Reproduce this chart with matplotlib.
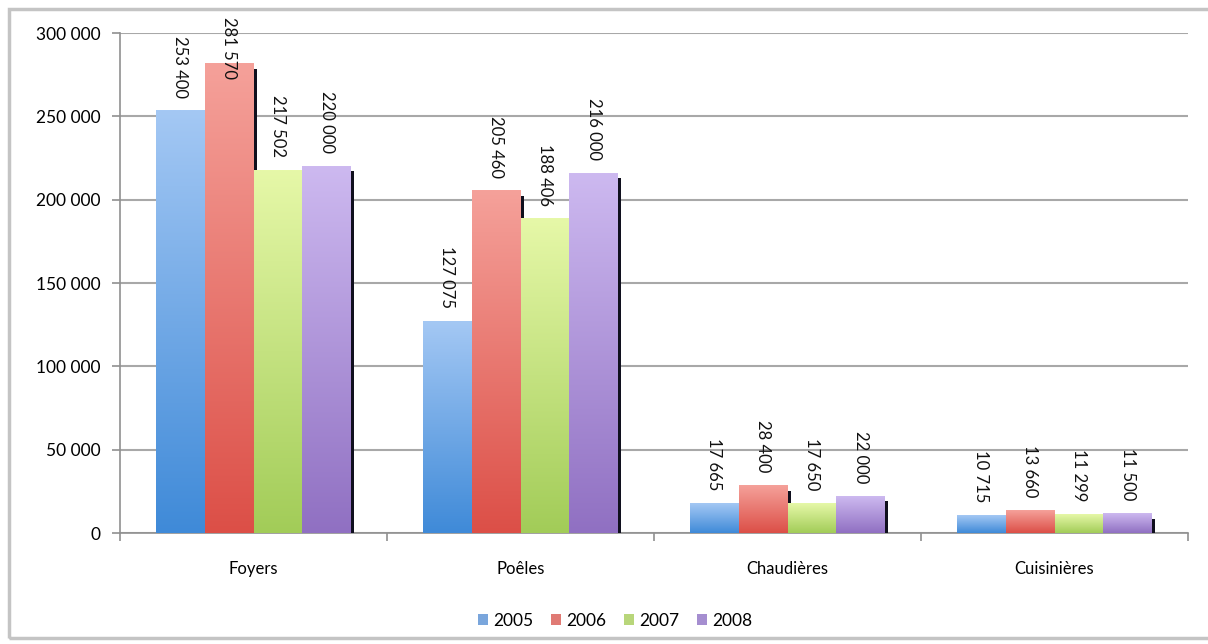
import numpy as np
import matplotlib
matplotlib.use("Agg")
import matplotlib.pyplot as plt
from matplotlib.colors import LinearSegmentedColormap
from matplotlib.patches import Patch, Rectangle

plt.rcParams['font.family'] = ['Lato', 'DejaVu Sans']

# data
categories = ["Foyers", "Poêles", "Chaudières", "Cuisinières"]
years = ["2005", "2006", "2007", "2008"]
v2005 = [253400, 127075, 17665, 10715]
v2006 = [281570, 205460, 28400, 13660]
v2007 = [217502, 188406, 17650, 11299]
v2008 = [220000, 216000, 22000, 11500]
series = [v2005, v2006, v2007, v2008]

# gradient colours (top, bottom) per year
tops = ["#a4c8f4", "#f5a19a", "#e6f8a8", "#cdb9f0"]
bottoms = ["#3f8ad8", "#dc4f47", "#a2cc58", "#9070c2"]
legend_cols = ["#7aa6dc", "#e07a74", "#b8d67a", "#a58ed0"]

ymax = 300000
fig = plt.figure(figsize=(12.08, 6.44), dpi=100)
ax = fig.add_axes([120/1208, 1-533/644, 1068/1208, 500/644])

# outer frame of the chart
fig.patches.append(Rectangle((9/1208, 1-638/644), 1.1, 629/644, transform=fig.transFigure,
                             fill=False, edgecolor="#c4c4c4", lw=2.5, zorder=0))

w = 0.1835
px_y = ymax / 500.0      # data units per pixel (vertical)
px_x = 1.0 / 267.0       # data units per pixel (horizontal)
grad = np.linspace(1, 0, 256).reshape(-1, 1)
x = np.arange(len(categories))

for i, vals in enumerate(series):
    cmap = LinearSegmentedColormap.from_list("g%d" % i, [bottoms[i], tops[i]])
    for j, v in enumerate(vals):
        x0 = x[j] + (i - 1.5) * w - w / 2
        # dark shadow on the right side
        ax.add_patch(Rectangle((x0 + w, 0), 3 * px_x, v - 5 * px_y,
                               facecolor="#10101e", edgecolor="none", zorder=2 + i))
        ax.imshow(grad, extent=(x0, x0 + w, 0, v), aspect="auto", cmap=cmap,
                  vmin=0, vmax=1, zorder=3 + i, interpolation="bilinear")
        lab = f"{v:,}".replace(",", " ")
        top_needed = v + 13 * px_y + 66 * px_y
        if top_needed > ymax + 16 * px_y:
            ax.text(x0 + w / 2, ymax + 16 * px_y, lab, rotation=-90, ha="center", va="top",
                    fontsize=12, color="#111111", clip_on=False, zorder=10)
        else:
            ax.text(x0 + w / 2, v + 13 * px_y, lab, rotation=-90, ha="center", va="bottom",
                    fontsize=12, color="#111111", zorder=10)

ax.set_xlim(-0.5, len(categories) - 0.5)
ax.set_ylim(0, ymax)
ax.set_yticks(np.arange(0, ymax + 1, 50000))
ax.set_yticklabels([f"{t:,}".replace(",", " ") for t in range(0, ymax + 1, 50000)])
ax.set_xticks(x)
ax.set_xticklabels(categories)
ax.set_xticks(np.arange(-0.5, len(categories)), minor=True)
ax.tick_params(axis="x", which="major", length=0, pad=20, labelsize=12)
ax.tick_params(axis="x", which="minor", length=6, color="#909090", width=1.2)
ax.tick_params(axis="y", length=6, color="#909090", width=1.2, labelsize=12.5, pad=8)
ax.grid(axis="y", color="#a8a8a8", lw=1.5, zorder=1)
ax.set_axisbelow(True)
for s in ["top", "right"]:
    ax.spines[s].set_visible(False)
for s in ["left", "bottom"]:
    ax.spines[s].set_color("#909090")
    ax.spines[s].set_linewidth(1.2)

handles = [Patch(facecolor=c, edgecolor="none") for c in legend_cols]
fig.legend(handles, years, loc="center", bbox_to_anchor=(615/1208, 1-621/644), ncol=4,
           frameon=False, handlelength=0.6, handleheight=0.6, handletextpad=0.3,
           columnspacing=1.0, fontsize=12.5)

fig.savefig("out.png", dpi=100)
